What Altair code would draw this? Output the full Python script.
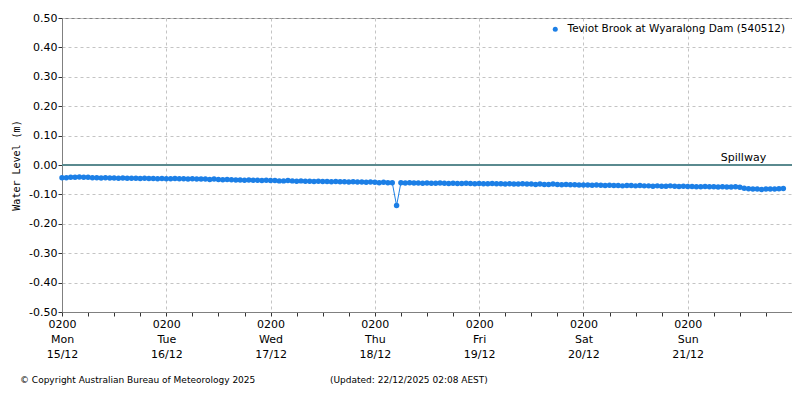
import altair as alt
import pandas as pd

# Hourly water level readings (mm relative to spillway), starting Mon 15/12 02:00
mon = [-43, -43, -42, -42, -41, -42, -42, -43, -43, -44, -43, -44, -44, -45, -44, -45, -45, -45, -46, -45, -46, -46, -47, -46]
tue = [-47, -47, -46, -47, -47, -48, -47, -48, -48, -48, -49, -48, -49, -50, -49, -50, -51, -51, -52, -51, -52, -52, -53, -52]
wed = [-53, -53, -54, -54, -53, -54, -55, -54, -55, -55, -56, -55, -56, -56, -57, -56, -57, -57, -58, -57, -58, -58, -59, -58]
thu = [-59, -60, -59, -60, -60, -138, -60, -61, -60, -61, -61, -62, -61, -62, -62, -61, -62, -63, -62, -63, -63, -62, -63, -64]
fri = [-63, -64, -64, -63, -64, -64, -65, -64, -65, -65, -64, -65, -65, -66, -65, -66, -66, -65, -66, -67, -66, -67, -67, -68]
sat = [-68, -68, -69, -68, -69, -70, -69, -70, -70, -71, -70, -70, -71, -70, -71, -71, -72, -71, -72, -72, -71, -72, -73, -72]
sun = [-73, -73, -74, -74, -73, -74, -74, -75, -74, -75, -75, -74, -76, -79, -81, -82, -82, -83, -82, -82, -82, -81, -80]

series_name = "Teviot Brook at Wyaralong Dam (540512)"
y_ticks = [-0.5, -0.4, -0.3, -0.2, -0.1, 0.0, 0.1, 0.2, 0.3, 0.4, 0.5]
spillway_level = 0.0
spillway_label = "Spillway"
spillway_label_time = "2025-12-21T14:50:00Z"
copyright_text = "\u00a9 Copyright Australian Bureau of Meteorology 2025"
updated_text = "(Updated: 22/12/2025 02:08 AEST)"

BLUE = "#1c7fe6"
TEAL = "#5a8a8f"
FONT = "DejaVu Sans"

levels_mm = mon + tue + wed + thu + fri + sat + sun
start = pd.Timestamp("2025-12-15T02:00:00Z")
end = pd.Timestamp("2025-12-22T02:00:00Z")
times = [start + pd.Timedelta(hours=i) for i in range(len(levels_mm))]
df = pd.DataFrame({
    "time": [t.strftime("%Y-%m-%dT%H:%M:%SZ") for t in times],
    "level": [v / 1000 for v in levels_mm],
    "series": series_name,
})

ms = lambda t: int(t.timestamp() * 1000)
tick_vals = [ms(start + pd.Timedelta(hours=6 * i)) for i in range(28)]

X = alt.X(
    "time:T",
    scale=alt.Scale(type="utc", domain=[ms(start), ms(end)], nice=False),
    axis=alt.Axis(
        values=tick_vals,
        title=None,
        labelExpr="utchours(datum.value) == 2 ? [utcFormat(datum.value, '%H%M'), utcFormat(datum.value, '%a'), utcFormat(datum.value, '%d/%m')] : ''",
        labelOverlap=False,
        labelFlush=False,
        labelLineHeight=15,
        labelPadding=2,
        tickSize=4,
        grid=True,
        gridOpacity=alt.ExprRef("utchours(datum.value) == 2 ? 1 : 0"),
    ),
)
Y = alt.Y(
    "level:Q",
    scale=alt.Scale(domain=[-0.5, 0.5], nice=False, zero=False),
    axis=alt.Axis(
        values=y_ticks,
        title="Water Level (m)",
        titleFont="DejaVu Sans Mono",
        titleFontSize=10,
        titleFontWeight="normal",
        titleColor="black",
        titlePadding=7,
        labelExpr="replace(format(datum.value, '.2f'), '\u2212', '-')",
        labelOverlap=False,
        labelFlush=False,
        tickSize=4,
        labelPadding=1,
        grid=True,
    ),
)

base = alt.Chart(df)

spill = alt.Chart(pd.DataFrame({"level": [spillway_level]})).mark_rule(
    color=TEAL, strokeWidth=2
).encode(y=Y)

spill_text = alt.Chart(pd.DataFrame({
    "time": [spillway_label_time], "level": [spillway_level], "label": [spillway_label]
})).mark_text(font=FONT, fontSize=11, color="black", dy=-7, align="center").encode(
    x=X, y=Y, text="label:N"
)

line = base.mark_line(color=BLUE, strokeWidth=1).encode(x=X, y=Y)
pts = base.mark_circle(size=30, opacity=1).encode(
    x=X,
    y=Y,
    color=alt.Color(
        "series:N",
        scale=alt.Scale(domain=[series_name], range=[BLUE]),
        legend=alt.Legend(
            orient="top-right",
            title=None,
            offset=6,
            padding=0,
            labelFont=FONT,
            labelFontSize=10.5,
            labelColor="black",
            labelLimit=400,
            labelOffset=7,
            symbolType="circle",
            symbolSize=25,
            symbolStrokeWidth=0,
        ),
    ),
)

foot1 = alt.Chart(pd.DataFrame({"t": [copyright_text]})).mark_text(
    font=FONT, fontSize=9, align="left", baseline="middle", color="black"
).encode(x=alt.value(-42), y=alt.value(362), text="t:N")
foot2 = alt.Chart(pd.DataFrame({"t": [updated_text]})).mark_text(
    font=FONT, fontSize=9, align="left", baseline="middle", color="black"
).encode(x=alt.value(268), y=alt.value(362), text="t:N")

chart = alt.layer(spill, line, pts, spill_text, foot1, foot2).properties(
    width=730,
    height=294,
    autosize="none",
    padding={"left": 54, "top": 10, "right": 0, "bottom": 74},
).configure_view(
    stroke="#808080", strokeWidth=1
).configure_axis(
    labelFont=FONT,
    labelFontSize=11,
    labelColor="black",
    domainColor="#808080",
    tickColor="#333333",
    gridColor="#c4c4c4",
    gridDash=[3, 3],
    gridWidth=1,
)

chart.save("out.html", embed_options={"renderer": "svg", "actions": False})
